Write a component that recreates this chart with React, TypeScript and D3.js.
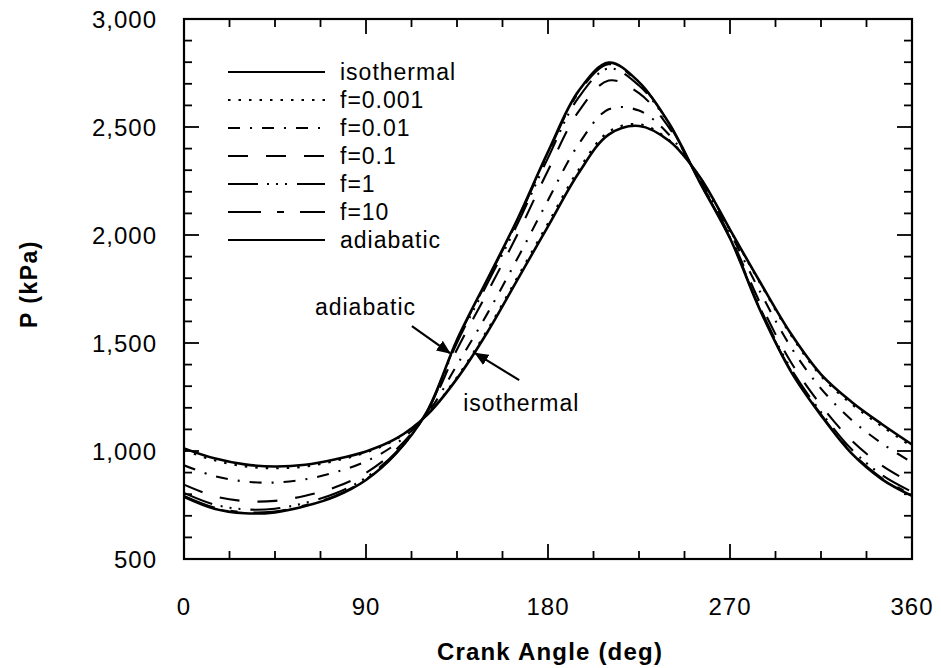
import React from 'react';
import * as d3 from 'd3';

const angles = [0, 15, 30, 45, 60, 75, 90, 105, 120, 135, 150, 165, 180, 195, 210, 225, 240, 255, 270, 285, 300, 315, 330, 345, 360];

const isothermal = [1012, 966, 938, 928, 936, 962, 998, 1058, 1165, 1335, 1550, 1795, 2040, 2285, 2465, 2505, 2435, 2270, 2025, 1780, 1545, 1355, 1228, 1125, 1030];
const f0001 = [1003, 957, 929, 920, 928, 955, 993, 1055, 1166, 1342, 1560, 1806, 2054, 2300, 2478, 2513, 2438, 2269, 2023, 1775, 1538, 1347, 1218, 1115, 1020];
const f001 = [934, 884, 859, 854, 869, 902, 952, 1034, 1170, 1398, 1636, 1893, 2161, 2418, 2582, 2576, 2463, 2261, 2011, 1735, 1483, 1289, 1145, 1036, 947];
const f01 = [844, 791, 768, 769, 793, 833, 899, 1007, 1176, 1470, 1734, 2005, 2299, 2570, 2715, 2657, 2495, 2251, 1995, 1683, 1413, 1212, 1050, 934, 851];
const f1 = [806, 752, 730, 733, 760, 804, 877, 995, 1179, 1501, 1775, 2053, 2357, 2635, 2771, 2692, 2509, 2247, 1988, 1660, 1383, 1180, 1009, 890, 811];
const f10 = [792, 738, 717, 720, 749, 793, 869, 991, 1180, 1511, 1790, 2069, 2378, 2657, 2791, 2704, 2513, 2246, 1986, 1653, 1374, 1169, 995, 875, 797];
const adiabatic = [788, 733, 712, 716, 745, 790, 866, 990, 1180, 1515, 1795, 2075, 2385, 2665, 2798, 2708, 2515, 2245, 1985, 1650, 1370, 1165, 990, 870, 792];

const seriesNames = ['isothermal', 'f=0.001', 'f=0.01', 'f=0.1', 'f=1', 'f=10', 'adiabatic'];
const seriesValues = [isothermal, f0001, f001, f01, f1, f10, adiabatic];
const seriesDash = ['none', '2.5,8', '12,10,2,10', '20,18', '30,9,2,7,2,7,2,10', '33,16,7,16', 'none'];

const xTicks = [0, 90, 180, 270, 360];
const xMinorStep = 22.5;
const yTicks = [500, 1000, 1500, 2000, 2500, 3000];
const yMinorStep = 100;

const annotations = [
  { label: 'adiabatic', angle: 131.5, p: 1453, tailDx: -38, tailDy: -27, textDx: -135, textDy: -38, anchor: 'start' },
  { label: 'isothermal', angle: 144, p: 1453, tailDx: 44, tailDy: 27, textDx: -12, textDy: 58, anchor: 'start' },
];

const W = 941;
const H = 668;
const FONT = '"Liberation Sans", Arial, Helvetica, sans-serif';

export default function App() {
  const x = d3.scaleLinear().domain([0, 360]).range([184, 912]);
  const y = d3.scaleLinear().domain([500, 3000]).range([559, 19]);
  const [x0, x1] = x.range();
  const [y0, y1] = y.range();

  const line = d3
    .line<[number, number]>()
    .x((d) => x(d[0]))
    .y((d) => y(d[1]))
    .curve(d3.curveCatmullRom.alpha(0.5));

  const xMinor = d3.range(0, 360 + 0.001, xMinorStep);
  const yMinor = d3.range(500, 3000 + 0.001, yMinorStep);
  const isMajorX = (v: number) => xTicks.some((t) => Math.abs(t - v) < 1e-6);
  const isMajorY = (v: number) => yTicks.some((t) => Math.abs(t - v) < 1e-6);

  const drawOrder = [1, 2, 3, 4, 5, 0, 6];

  const legendX1 = 228;
  const legendX2 = 325;
  const legendY0 = 72;
  const legendStep = 28;

  return (
    <svg
      width={W}
      height={H}
      viewBox={`0 0 ${W} ${H}`}
      style={{ position: 'absolute', left: 0, top: 0, background: '#fff' }}
      fontFamily={FONT}
    >
      <defs>
        <marker id="arrowhead" viewBox="0 0 14 12" refX="13" refY="6" markerWidth="14" markerHeight="12" markerUnits="userSpaceOnUse" orient="auto">
          <path d="M0,0 L14,6 L0,12 Z" fill="#000" />
        </marker>
        <clipPath id="plotClip">
          <rect x={x0} y={y1} width={x1 - x0} height={y0 - y1} />
        </clipPath>
      </defs>

      {/* curves */}
      <g clipPath="url(#plotClip)">
        {drawOrder.map((i) => (
          <path
            key={seriesNames[i]}
            d={line(angles.map((a, k) => [a, seriesValues[i][k]]) as [number, number][]) || ''}
            fill="none"
            stroke="#000"
            strokeWidth={i === 0 || i === 6 ? 2.6 : 2.1}
            strokeDasharray={seriesDash[i]}
            strokeLinecap="butt"
          />
        ))}
      </g>

      {/* frame */}
      <rect x={x0} y={y1} width={x1 - x0} height={y0 - y1} fill="none" stroke="#000" strokeWidth={2.2} />

      {/* x ticks bottom and top */}
      {xMinor.map((v) => {
        const len = isMajorX(v) ? 15 : 8;
        return (
          <g key={'xt' + v}>
            <line x1={x(v)} x2={x(v)} y1={y0} y2={y0 - len} stroke="#000" strokeWidth={1.8} />
            <line x1={x(v)} x2={x(v)} y1={y1} y2={y1 + len} stroke="#000" strokeWidth={1.8} />
          </g>
        );
      })}
      {/* y ticks left and right */}
      {yMinor.map((v) => {
        const len = isMajorY(v) ? 15 : 8;
        return (
          <g key={'yt' + v}>
            <line x1={x0} x2={x0 + len} y1={y(v)} y2={y(v)} stroke="#000" strokeWidth={1.8} />
            <line x1={x1} x2={x1 - len} y1={y(v)} y2={y(v)} stroke="#000" strokeWidth={1.8} />
          </g>
        );
      })}

      {/* tick labels */}
      {xTicks.map((v) => (
        <text key={'xl' + v} x={x(v)} y={615} textAnchor="middle" fontSize={24} letterSpacing={1} fill="#000">
          {v}
        </text>
      ))}
      {yTicks.map((v) => (
        <text key={'yl' + v} x={157} y={y(v)} dy="0.36em" textAnchor="end" fontSize={24} letterSpacing={1} fill="#000">
          {d3.format(',')(v)}
        </text>
      ))}

      {/* axis titles */}
      <text x={(x0 + x1) / 2 + 2} y={660} textAnchor="middle" fontSize={24} fontWeight="bold" letterSpacing={1.2} fill="#000">
        Crank Angle (deg)
      </text>
      <text transform={`translate(37, ${(y0 + y1) / 2 - 5}) rotate(-90)`} textAnchor="middle" fontSize={23} fontWeight="bold" letterSpacing={1.5} fill="#000">
        P (kPa)
      </text>

      {/* legend */}
      {seriesNames.map((name, i) => {
        const ly = legendY0 + i * legendStep;
        return (
          <g key={'lg' + name}>
            <line x1={legendX1} x2={legendX2} y1={ly} y2={ly} stroke="#000" strokeWidth={2.2} strokeDasharray={seriesDash[i]} />
            <text x={340} y={ly} dy="0.36em" fontSize={23} letterSpacing={1} fill="#000">
              {name}
            </text>
          </g>
        );
      })}

      {/* annotations */}
      {annotations.map((a) => {
        const tx = x(a.angle);
        const ty = y(a.p);
        return (
          <g key={'an' + a.label}>
            <line x1={tx + a.tailDx} y1={ty + a.tailDy} x2={tx} y2={ty} stroke="#000" strokeWidth={2.2} markerEnd="url(#arrowhead)" />
            <text x={tx + a.textDx} y={ty + a.textDy} fontSize={23} letterSpacing={1} fill="#000" textAnchor={a.anchor as any}>
              {a.label}
            </text>
          </g>
        );
      })}
    </svg>
  );
}
